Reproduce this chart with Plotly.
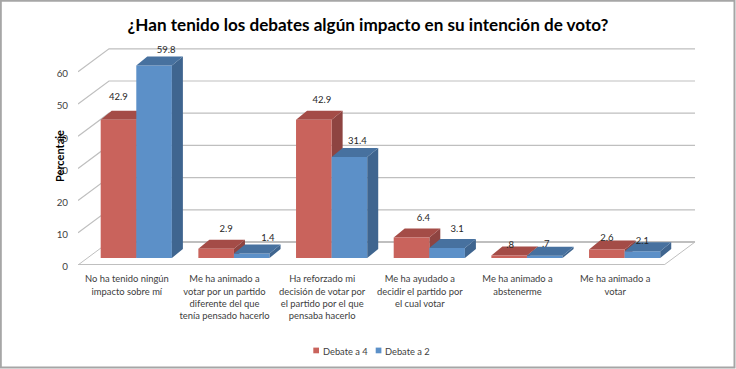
import plotly.graph_objects as go

# ---- data ----
CATEGORIES = [
    "No ha tenido ningún<br>impacto sobre mí",
    "Me ha animado a<br>votar por un partido<br>diferente del que<br>tenía pensado hacerlo",
    "Ha reforzado mi<br>decisión de votar por<br>el partido por el que<br>pensaba hacerlo",
    "Me ha ayudado a<br>decidir el partido por<br>el cual votar",
    "Me ha animado a<br>abstenerme",
    "Me ha animado a<br>votar",
]
DEBATE_4 = [42.9, 2.9, 42.9, 6.4, 0.8, 2.6]
DEBATE_2 = [59.8, 1.4, 31.4, 3.1, 0.7, 2.1]
Y_TICKS = [0, 10, 20, 30, 40, 50, 60]
SERIES_NAMES = ["Debate a 4", "Debate a 2"]

# ---- oblique projection and layout (pixels) ----
W, H = 736, 369
PL, PR, PT, PB = 78, 700, 40, 265
PX_CAT = 97.67
PX_UNIT = 3.22
DEPTH_X = 31 / PX_CAT
DEPTH_Y = 23 / PX_UNIT
Z_FRONT = 0.305
BAR_W = 35.6 / PX_CAT
BAR_DX = 11 / PX_CAT
BAR_DY = 9 / PX_UNIT
XR = [0, (PR - PL) / PX_CAT]
YR = [0, (PB - PT) / PX_UNIT]
GRID = "#BFBFBF"
TEXT = "#404040"
RED, RED_TOP, RED_SIDE = "#C9635C", "#A44C47", "#8E4441"
BLUE, BLUE_TOP, BLUE_SIDE = "#5C90C8", "#47719F", "#3F658F"
FONT = "Lato"

# label nudges in pixels from the centre of the bar's front top edge
RED_NUDGE = [(0, -22), (10, -19), (8, -19), (12, -19), (1, -10), (0, -11)]
BLUE_NUDGE = [(12, -15), (16, -15), (8, -15), (10, -18), (1, -11), (0, -10)]


def fmt(v):
    s = f"{v:g}"
    return s[1:] if s.startswith("0.") else s


def polys(lefts, values, kind):
    """Build top or side faces from the series values."""
    xs, ys = [], []
    base = Z_FRONT * DEPTH_Y
    for l, v in zip(lefts, values):
        t = base + v
        r = l + BAR_W
        if kind == "top":
            px = [l, r, r + BAR_DX, l + BAR_DX, l]
            py = [t, t, t + BAR_DY, t + BAR_DY, t]
        else:
            px = [r, r + BAR_DX, r + BAR_DX, r, r]
            py = [base, base + BAR_DY, t + BAR_DY, t, base]
        xs += px + [None]
        ys += py + [None]
    return xs, ys


centers = [i + 0.5 + Z_FRONT * DEPTH_X for i in range(len(CATEGORIES))]
red_left = [c - BAR_W for c in centers]
blue_left = list(centers)
n = len(CATEGORIES)

fig = go.Figure()


def line(xs, ys, width, color=GRID):
    fig.add_trace(go.Scatter(x=xs, y=ys, mode="lines", showlegend=False, hoverinfo="skip",
                             line=dict(color=color, width=width)))


# walls and floor
for t in Y_TICKS:
    line([0, DEPTH_X, n + DEPTH_X], [t, t + DEPTH_Y, t + DEPTH_Y], 1.2 if t else 1)
line([0, n], [0, 0], 2)
line([n, n + DEPTH_X], [0, DEPTH_Y], 1)
line([DEPTH_X, n + DEPTH_X], [DEPTH_Y, DEPTH_Y], 2)


def face(xs, ys, color, axes):
    fig.add_trace(go.Scatter(x=xs, y=ys, mode="lines", fill="toself", fillcolor=color,
                             line=dict(width=0, color=color), showlegend=False,
                             hoverinfo="skip", xaxis=axes[0], yaxis=axes[1]))


# back layer: first series' hidden faces
face(*polys(red_left, DEBATE_4, "side"), RED_SIDE, ("x", "y"))
face(*polys(red_left, DEBATE_4, "top"), RED_TOP, ("x", "y"))

# front layer: bars and the second series' faces
base_v = Z_FRONT * DEPTH_Y
for name, vals, lefts, col in [(SERIES_NAMES[0], DEBATE_4, red_left, RED),
                               (SERIES_NAMES[1], DEBATE_2, blue_left, BLUE)]:
    fig.add_trace(go.Bar(x=[l + BAR_W / 2 for l in lefts], y=vals, base=[base_v] * n, width=BAR_W,
                         marker=dict(color=col, line=dict(width=0)), showlegend=False, name=name,
                         xaxis="x2", yaxis="y2"))
face(*polys(blue_left, DEBATE_2, "side"), BLUE_SIDE, ("x2", "y2"))
face(*polys(blue_left, DEBATE_2, "top"), BLUE_TOP, ("x2", "y2"))

# data labels
for vals, lefts, nudge in [(DEBATE_4, red_left, RED_NUDGE), (DEBATE_2, blue_left, BLUE_NUDGE)]:
    fig.add_trace(go.Scatter(
        x=[l + BAR_W / 2 + d[0] / PX_CAT for l, d in zip(lefts, nudge)],
        y=[base_v + v - d[1] / PX_UNIT for v, d in zip(vals, nudge)],
        text=[fmt(v) for v in vals], mode="text", textposition="middle center",
        textfont=dict(family=FONT, size=9.5, color="#262626"),
        showlegend=False, hoverinfo="skip", xaxis="x2", yaxis="y2"))


def px_x(p):
    return (p - PL) / (PR - PL)


def px_y(p):
    return (PB - p) / (PB - PT)


# legend: swatch and text placed to the tight spacing of the reference
legend_shapes, legend_notes = [], []
for name, col, sx in [(SERIES_NAMES[0], RED, 313.3), (SERIES_NAMES[1], BLUE, 375.7)]:
    legend_shapes.append(dict(type="rect", xref="paper", yref="paper",
                              x0=px_x(sx), x1=px_x(sx + 5.7), y0=px_y(353.3), y1=px_y(347.6),
                              line=dict(width=0), fillcolor=col))
    legend_notes.append(dict(text=name, xref="paper", yref="paper", x=px_x(sx + 7.5), y=px_y(351.5),
                             xanchor="left", yanchor="middle", showarrow=False,
                             font=dict(family=FONT, size=9.3, color=TEXT)))

fig.update_layout(
    width=W, height=H, autosize=False,
    margin=dict(l=PL, r=W - PR, t=PT, b=H - PB, pad=0),
    paper_bgcolor="white", plot_bgcolor="rgba(0,0,0,0)",
    barmode="overlay", showlegend=False,
    font=dict(family=FONT, size=10, color=TEXT),
    title=dict(text="<b>¿Han tenido los debates algún impacto en su intención de voto?</b>",
               font=dict(family=FONT, size=17.1, color="black"),
               x=368 / W, xanchor="center", y=1 - 25 / H, yanchor="middle"),
    xaxis=dict(range=XR, tickvals=[i + 0.5 for i in range(n)], ticktext=CATEGORIES, showgrid=False,
               zeroline=False, showline=False, ticks="", ticklabelstandoff=7, tickangle=0,
               tickfont=dict(family=FONT, size=9.4, color=TEXT), fixedrange=True),
    yaxis=dict(range=YR, tickvals=Y_TICKS, showgrid=False, zeroline=False, showline=False, ticks="",
               ticklabelstandoff=9, ticklabelshift=2, tickfont=dict(family=FONT, size=9.8, color=TEXT),
               fixedrange=True),
    xaxis2=dict(range=XR, overlaying="x", visible=False, fixedrange=True),
    yaxis2=dict(range=YR, overlaying="y", visible=False, fixedrange=True),
    annotations=legend_notes + [dict(text="<b>Percentaje</b>", textangle=-90, xref="paper", yref="paper",
                                     x=px_x(59), y=px_y(156), xanchor="center", yanchor="middle",
                                     showarrow=False, font=dict(family=FONT, size=11, color="black"))],
    shapes=legend_shapes + [dict(type="rect", xref="paper", yref="paper", x0=px_x(0.8), x1=px_x(734.5),
                                 y0=px_y(367.5), y1=px_y(0.8),
                                 line=dict(color="#A6A6A6", width=2), fillcolor="rgba(0,0,0,0)", layer="below")],
)

fig.write_html("out.html", config={"displayModeBar": False},
               post_script="document.body.style.margin='0';document.body.style.overflow='hidden';")
